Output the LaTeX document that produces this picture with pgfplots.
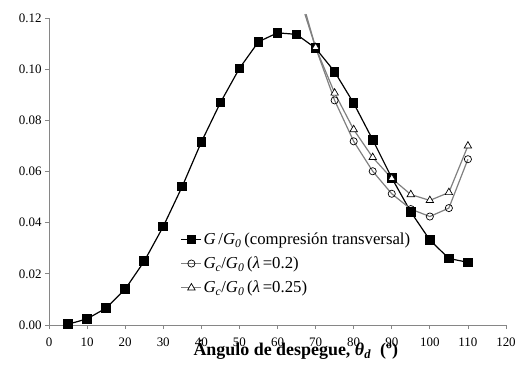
\documentclass[border=0pt]{standalone}
\usepackage{fontspec}
\setmainfont{Liberation Serif}
\usepackage{pgfplots}
\pgfplotsset{compat=1.18}
\definecolor{axgray}{RGB}{134,134,134}
\definecolor{lgray}{RGB}{128,128,128}

\begin{document}
\begin{tikzpicture}
\useasboundingbox (-49bp,-43bp) rectangle (471bp,325bp);
\begin{axis}[
  at={(0,0)}, anchor=south west,
  scale only axis, width=457bp, height=307bp,
  xmin=0, xmax=120, ymin=0, ymax=0.12,
  axis lines*=left,
  axis line style={axgray, line width=0.8bp},
  xtick={0,10,20,30,40,50,60,70,80,90,100,110,120},
  ytick={0,0.02,0.04,0.06,0.08,0.1,0.12},
  scaled y ticks=false,
  tick align=outside,
  major tick length=4bp,
  tick style={axgray, line width=0.8bp},
  yticklabel style={/pgf/number format/fixed, /pgf/number format/fixed zerofill, /pgf/number format/precision=2},
  xticklabel style={yshift=-5bp},
  ticklabel style={font=\fontsize{13}{15}\selectfont, text=black},
  /pgf/number format/assume math mode=true,
  clip=false,
  legend image code/.code={\draw[mark repeat=2,mark phase=2] plot coordinates {(0bp,0bp) (10bp,0bp) (20bp,0bp)};},
  legend style={draw=none, fill=none, at={(0.288,0.314)}, anchor=north west,
    font=\fontsize{16.8}{19}\selectfont, row sep=7bp, inner xsep=0pt,
    nodes={inner xsep=1.5bp}},
  legend cell align=left,
  xlabel={\textbf{Ángulo de despegue, \textit{θ}\textsubscript{\textit{d}}\ \ (º)}},
  xlabel style={font=\fontsize{18}{20}\selectfont, at={(axis description cs:0.540,0)}, anchor=north, yshift=-12bp},
]
\addplot[black, line width=1.2bp, mark=square*, mark size=4.2bp, mark options={solid, fill=black}] coordinates {
(5,0.0003) (10,0.0024) (15,0.0066) (20,0.0140) (25,0.0249) (30,0.0385) (35,0.0542)
(40,0.0715) (45,0.0869) (50,0.1003) (55,0.1107) (60,0.1142) (65,0.1136) (70,0.1082)
(75,0.0990) (80,0.0867) (85,0.0724) (90,0.0575) (95,0.0442) (100,0.0332) (105,0.0260) (110,0.0245)};
\addlegendentry{\textit{G}\,/\textit{G}\textsubscript{\textit{0}}\,(compresión transversal)}
\addplot[lgray, line width=1.2bp, forget plot] coordinates {(67.2,0.1215) (70,0.1085)};
\addplot[lgray, line width=1.2bp, forget plot] coordinates {(67.5,0.1215) (70,0.1085)};
\addplot[lgray, line width=1.2bp, mark=o, mark size=3.6bp, mark options={solid, draw=black, fill=white, line width=0.7bp}] coordinates {
(70,0.1085) (75,0.0878) (80,0.0718) (85,0.0601) (90,0.0513) (95,0.0453) (100,0.0424) (105,0.0457) (110,0.0648)};
\addlegendentry{\textit{G}\textsubscript{\textit{c}}/\textit{G}\textsubscript{\textit{0}}\,(\textit{λ}\,=0.2)}
\addplot[lgray, line width=1.2bp, mark=triangle*, mark size=4.3bp, mark options={solid, draw=black, fill=white, line width=0.7bp}] coordinates {
(70,0.1085) (75,0.0907) (80,0.0764) (85,0.0655) (90,0.0573) (95,0.0510) (100,0.0487) (105,0.0518) (110,0.0700)};
\addlegendentry{\textit{G}\textsubscript{\textit{c}}/\textit{G}\textsubscript{\textit{0}}\,(\textit{λ}\,=0.25)}
\end{axis}
\end{tikzpicture}
\end{document}
